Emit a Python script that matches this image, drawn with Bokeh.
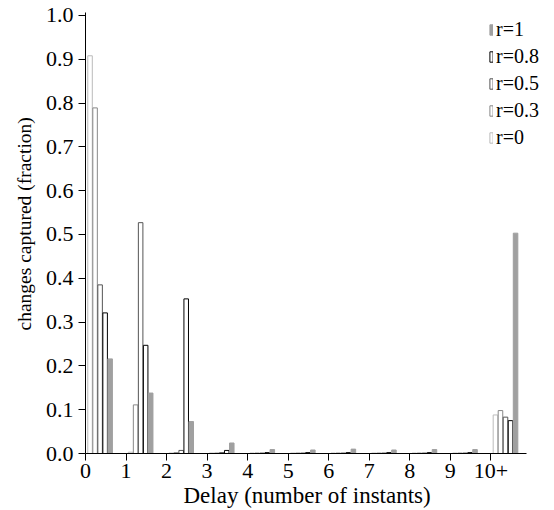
from bokeh.plotting import figure
from bokeh.models import FixedTicker, PrintfTickFormatter, Range1d, Legend, LegendItem, Title
from bokeh.embed import file_html
from bokeh.resources import INLINE

# ---- data ----
delay_labels = ["0", "1", "2", "3", "4", "5", "6", "7", "8", "9", "10+"]
delays = [0, 1, 2, 3, 4, 5, 6, 7, 8, 9, 10]

r0_vals  = [0.908, 0.003, 0.001, 0.001, 0.001, 0.001, 0.001, 0.001, 0.001, 0.001, 0.088]
r03_vals = [0.789, 0.111, 0.002, 0.001, 0.001, 0.001, 0.001, 0.001, 0.001, 0.001, 0.098]
r05_vals = [0.385, 0.527, 0.007, 0.002, 0.001, 0.001, 0.001, 0.001, 0.001, 0.001, 0.083]
r08_vals = [0.321, 0.247, 0.353, 0.007, 0.002, 0.002, 0.002, 0.002, 0.002, 0.002, 0.075]
r1_vals  = [0.216, 0.138, 0.073, 0.024, 0.009, 0.008, 0.010, 0.008, 0.009, 0.009, 0.503]

series_names = ["r=0", "r=0.3", "r=0.5", "r=0.8", "r=1"]
series_vals = [r0_vals, r03_vals, r05_vals, r08_vals, r1_vals]
y_ticks = [0.0, 0.1, 0.2, 0.3, 0.4, 0.5, 0.6, 0.7, 0.8, 0.9, 1.0]
x_title = "Delay (number of instants)"
y_title = "changes captured (fraction)"

# ---- styles ----
fills = ["white", "white", "white", "white", "#a0a0a0"]
edges = ["#bbbbbb", "#888888", "#555555", "#000000", "#a0a0a0"]
FONT = "Liberation Serif"

p = figure(width=552, height=510, output_backend="svg", toolbar_location=None,
           x_range=Range1d(0, 11.47), y_range=Range1d(0, 1.0068),
           min_border_left=85, min_border_right=2, min_border_top=12, min_border_bottom=57)
p.outline_line_color = None
p.xgrid.grid_line_color = None
p.ygrid.grid_line_color = None
p.background_fill_color = "white"
p.border_fill_color = "white"

bw = 0.124
start = 0.05
renderers = {}
for i, (name, vals) in enumerate(zip(series_names, series_vals)):
    xs = [d + start + i * bw + bw / 2 for d in delays]
    r = p.vbar(x=xs, top=vals, bottom=0, width=bw - 0.012,
               fill_color=fills[i], line_color=edges[i], line_width=1)
    renderers[name] = r

legend = Legend(items=[LegendItem(label=n, renderers=[renderers[n]])
                       for n in ["r=1", "r=0.8", "r=0.5", "r=0.3", "r=0"]],
                location=(404, 304))
legend.border_line_color = None
legend.background_fill_alpha = 0
legend.padding = 0
legend.margin = 0
legend.spacing = 4
legend.glyph_width = 4
legend.glyph_height = 13
legend.label_standoff = 3
legend.label_text_font = FONT
legend.label_text_font_size = "20px"
legend.label_text_color = "black"
p.add_layout(legend)

for ax in (p.xaxis[0], p.yaxis[0]):
    ax.axis_line_color = "black"
    ax.major_tick_line_color = "black"
    ax.major_tick_out = 7
    ax.major_tick_in = 0
    ax.minor_tick_line_color = None
    ax.major_label_text_font = FONT
    ax.major_label_text_font_size = "22px"
    ax.major_label_text_color = "black"

p.xaxis.bounds = (0, 10.875)
p.xaxis.ticker = FixedTicker(ticks=delays)
p.xaxis.major_label_overrides = {d: lab for d, lab in zip(delays, delay_labels)}
p.xaxis.major_label_standoff = 3

p.yaxis.ticker = FixedTicker(ticks=y_ticks)
p.yaxis.formatter = PrintfTickFormatter(format="%.1f")
p.yaxis.major_label_standoff = 5

xt = Title(text=x_title, align="left", offset=98, standoff=0,
           text_font=FONT, text_font_size="23px", text_font_style="normal", text_color="black")
p.add_layout(xt, "below")
yt = Title(text=y_title, align="left", offset=123, standoff=16,
           text_font=FONT, text_font_size="19.5px", text_font_style="normal", text_color="black")
p.add_layout(yt, "left")

open("out.html", "w").write(file_html(p, INLINE))
